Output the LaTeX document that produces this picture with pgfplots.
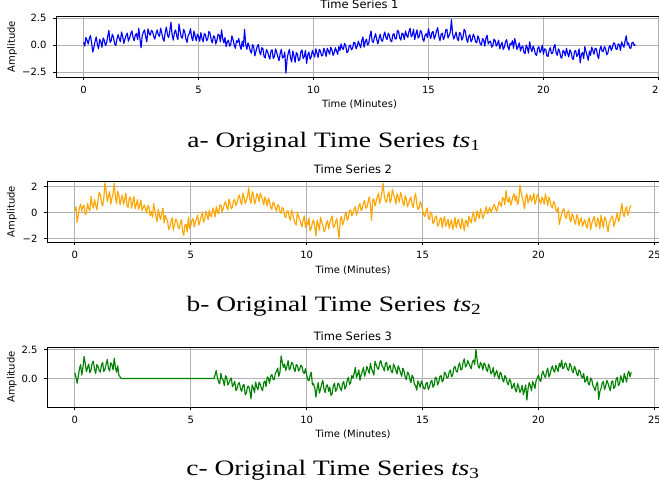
\documentclass[border=0pt]{standalone}
\usepackage{fontspec}
\setmainfont{DejaVu Sans}
\newfontfamily\capfont{Liberation Serif}
\usepackage{graphicx}
\usepackage{pgfplots}
\pgfplotsset{compat=1.18}
\definecolor{tsblue}{RGB}{0,0,255}
\definecolor{tsorange}{RGB}{255,165,0}
\definecolor{tsgreen}{RGB}{0,128,0}
\definecolor{gridgray}{RGB}{176,176,176}

\pgfplotsset{
  tsaxis/.style={
    scale only axis, height=61pt,
    xmin=-1.2, xmax=25.2,
    xtick={0,5,10,15,20,25}, xticklabels={0,5,10,15,20,25},
    grid=major, grid style={gridgray, line width=0.7pt},
    axis line style={black, line width=0.7pt},
    tick align=outside, major tick length=3pt,
    tick style={black, line width=0.7pt},
    xtick pos=bottom, ytick pos=left,
    ticklabel style={font=\fontsize{10}{12}\selectfont},
    xticklabel style={yshift=-3pt},
    yticklabel style={xshift=-3pt},
    xlabel={Time (Minutes)}, ylabel={Amplitude},
    label style={font=\fontsize{10}{12}\selectfont},
    every axis title shift=0pt,
    title style={font=\fontsize{11.5}{13}\selectfont, at={(axis description cs:0.5,1)}, anchor=base, yshift=7pt},
    every axis plot/.append style={line width=1.15pt, mark=none, line join=round},
  },
}
\tikzset{capstyle/.style={anchor=base, font=\capfont\fontsize{22}{24}\selectfont}}

\begin{document}
\begin{tikzpicture}[x=1pt,y=1pt]
\useasboundingbox (0,0) rectangle (659,491);

% ---- Time Series 1 ----
\begin{axis}[tsaxis, at={(56pt,475pt)}, anchor=north west, width=607pt,
  ymin=-2.95, ymax=2.68, ytick={-2.5,0,2.5}, yticklabels={−2.5,0.0,2.5},
  title={Time Series 1},
  xlabel style={at={(axis description cs:0.5,-0.443)}, anchor=center},
  ylabel style={at={(axis description cs:-0.0725,0.5)}, anchor=center}]
\addplot[tsblue] coordinates {
(0.00,0.25)(0.05,-0.10)(0.10,0.70)(0.15,0.45)(0.20,0.10)(0.25,0.60)(0.30,0.88)(0.35,0.15)(0.40,-0.65)(0.45,-0.20)(0.50,0.35)(0.55,0.75)(0.60,0.05)(0.65,-0.35)(0.70,0.52)(0.75,0.30)(0.80,-0.20)(0.85,0.65)(0.90,0.45)(0.95,-0.05)
(1.00,0.18)(1.05,0.80)(1.10,1.35)(1.15,0.25)(1.20,0.40)(1.25,1.00)(1.30,0.72)(1.35,0.10)(1.40,-0.05)(1.45,0.55)(1.50,0.95)(1.55,0.60)(1.60,0.30)(1.65,1.20)(1.70,0.80)(1.75,0.15)(1.80,0.55)(1.85,0.90)(1.90,1.10)(1.95,0.35)
(2.00,0.65)(2.05,1.05)(2.10,1.30)(2.15,0.70)(2.20,0.40)(2.25,0.95)(2.30,1.05)(2.35,0.50)(2.40,1.55)(2.45,0.60)(2.50,-0.25)(2.55,0.85)(2.60,1.20)(2.65,1.40)(2.70,0.75)(2.75,0.30)(2.80,1.50)(2.85,1.10)(2.90,0.90)(2.95,1.35)
(3.00,1.25)(3.05,0.80)(3.10,0.55)(3.15,1.05)(3.20,1.40)(3.25,0.95)(3.30,0.80)(3.35,1.55)(3.40,1.10)(3.45,0.60)(3.50,0.35)(3.55,1.20)(3.60,1.65)(3.65,0.90)(3.70,0.70)(3.75,1.30)(3.80,2.10)(3.85,0.95)(3.90,0.45)(3.95,1.15)
(4.00,1.40)(4.05,0.85)(4.10,0.50)(4.15,1.95)(4.20,1.25)(4.25,0.70)(4.30,0.65)(4.35,1.45)(4.40,1.20)(4.45,0.55)(4.50,0.25)(4.55,0.90)(4.60,1.05)(4.65,1.50)(4.70,0.70)(4.75,0.40)(4.80,1.30)(4.85,0.85)(4.90,0.40)(4.95,1.00)
(5.00,0.80)(5.05,0.35)(5.10,1.15)(5.15,0.60)(5.20,0.30)(5.25,1.05)(5.30,0.95)(5.35,0.40)(5.40,0.55)(5.45,1.25)(5.50,1.10)(5.55,0.45)(5.60,0.20)(5.65,0.85)(5.70,0.75)(5.75,0.10)(5.80,0.45)(5.85,1.00)(5.90,0.90)(5.95,0.30)
(6.00,1.40)(6.05,0.60)(6.10,0.20)(6.15,0.70)(6.20,-0.15)(6.25,0.30)(6.30,0.45)(6.35,-0.10)(6.40,0.05)(6.45,0.85)(6.50,0.50)(6.55,0.00)(6.60,-0.30)(6.65,0.40)(6.70,0.25)(6.75,0.60)(6.80,-0.05)(6.85,-0.40)(6.90,0.35)(6.95,-0.15)
(7.00,1.45)(7.05,0.10)(7.10,-0.40)(7.15,0.20)(7.20,-0.10)(7.25,-0.55)(7.30,-0.75)(7.35,0.05)(7.40,-0.20)(7.45,-1.00)(7.50,-0.55)(7.55,-0.15)(7.60,0.05)(7.65,-0.60)(7.70,-0.90)(7.75,-0.25)(7.80,-0.35)(7.85,-1.05)(7.90,-1.20)(7.95,-0.40)
(8.00,-0.60)(8.05,-1.00)(8.10,-1.30)(8.15,-0.55)(8.20,-0.45)(8.25,-1.25)(8.30,-1.05)(8.35,-0.35)(8.40,-0.70)(8.45,-1.10)(8.50,-1.45)(8.55,-0.80)(8.60,-0.40)(8.65,-1.20)(8.70,-1.10)(8.75,-0.65)(8.80,-2.60)(8.85,-1.30)(8.90,-0.75)(8.95,-0.40)
(9.00,-1.20)(9.05,-1.55)(9.10,-0.55)(9.15,-1.00)(9.20,-1.60)(9.25,-0.70)(9.30,-0.85)(9.35,-1.45)(9.40,-1.35)(9.45,-0.60)(9.50,-0.45)(9.55,-1.25)(9.60,-1.05)(9.65,-0.50)(9.70,-1.70)(9.75,-0.90)(9.80,-0.65)(9.85,-1.30)(9.90,-1.10)(9.95,-0.50)
(10.00,-0.80)(10.05,-1.10)(10.10,-0.35)(10.15,-0.75)(10.20,-1.15)(10.25,-0.40)(10.30,-0.55)(10.35,-1.00)(10.40,-0.95)(10.45,-0.30)(10.50,-0.60)(10.55,-1.05)(10.60,-0.30)(10.65,-0.55)(10.70,-0.85)(10.75,-0.20)(10.80,-0.45)(10.85,-0.95)(10.90,-0.70)(10.95,-0.25)
(11.00,-0.55)(11.05,-0.85)(11.10,-0.15)(11.15,-0.50)(11.20,0.10)(11.25,-0.30)(11.30,-0.40)(11.35,0.15)(11.40,-0.05)(11.45,-0.70)(11.50,-0.60)(11.55,-0.10)(11.60,0.00)(11.65,-0.45)(11.70,-0.30)(11.75,0.25)(11.80,0.20)(11.85,-0.35)(11.90,-0.10)(11.95,0.35)
(12.00,0.05)(12.05,-0.25)(12.10,0.40)(12.15,0.75)(12.20,-0.20)(12.25,0.30)(12.30,0.55)(12.35,0.00)(12.40,0.15)(12.45,0.80)(12.50,1.30)(12.55,0.35)(12.60,0.25)(12.65,0.70)(12.70,1.05)(12.75,0.50)(12.80,0.10)(12.85,0.60)(12.90,1.00)(12.95,0.45)
(13.00,0.35)(13.05,0.85)(13.10,1.20)(13.15,0.70)(13.20,0.50)(13.25,1.10)(13.30,0.90)(13.35,0.40)(13.40,0.30)(13.45,0.95)(13.50,1.05)(13.55,0.55)(13.60,0.60)(13.65,1.35)(13.70,1.25)(13.75,0.65)(13.80,0.45)(13.85,1.10)(13.90,1.00)(13.95,0.50)
(14.00,1.30)(14.05,0.90)(14.10,0.70)(14.15,1.25)(14.20,1.55)(14.25,0.75)(14.30,0.95)(14.35,1.45)(14.40,0.50)(14.45,1.00)(14.50,1.40)(14.55,0.65)(14.60,0.80)(14.65,1.35)(14.70,1.20)(14.75,0.55)(14.80,0.35)(14.85,0.90)(14.90,1.05)(14.95,0.70)
(15.00,1.50)(15.05,0.95)(15.10,0.60)(15.15,1.15)(15.20,1.25)(15.25,0.55)(15.30,0.85)(15.35,1.30)(15.40,1.60)(15.45,0.80)(15.50,0.40)(15.55,1.00)(15.60,1.10)(15.65,0.50)(15.70,0.75)(15.75,1.40)(15.80,1.45)(15.85,0.65)(15.90,0.90)(15.95,1.20)
(16.00,2.35)(16.05,1.00)(16.10,0.55)(16.15,0.85)(16.20,1.20)(16.25,0.60)(16.30,0.40)(16.35,1.15)(16.40,1.05)(16.45,0.45)(16.50,0.70)(16.55,1.45)(16.60,1.30)(16.65,0.60)(16.70,0.25)(16.75,0.80)(16.80,0.95)(16.85,0.30)(16.90,0.50)(16.95,1.00)
(17.00,0.75)(17.05,0.30)(17.10,0.20)(17.15,0.85)(17.20,0.55)(17.25,0.10)(17.30,0.00)(17.35,0.60)(17.40,0.45)(17.45,-0.10)(17.50,0.65)(17.55,0.90)(17.60,0.10)(17.65,0.30)(17.70,0.35)(17.75,-0.20)(17.80,-0.05)(17.85,0.55)(17.90,0.40)(17.95,-0.10)
(18.00,0.10)(18.05,0.45)(18.10,-0.35)(18.15,0.00)(18.20,0.25)(18.25,-0.40)(18.30,-0.20)(18.35,0.30)(18.40,0.50)(18.45,-0.15)(18.50,-0.45)(18.55,0.15)(18.60,0.05)(18.65,0.40)(18.70,-0.30)(18.75,0.60)(18.80,0.15)(18.85,-0.40)(18.90,-0.15)(18.95,0.20)
(19.00,-0.55)(19.05,-0.20)(19.10,-0.10)(19.15,-0.65)(19.20,-0.80)(19.25,0.00)(19.30,-0.25)(19.35,-0.75)(19.40,0.30)(19.45,-0.30)(19.50,-0.60)(19.55,-0.10)(19.60,-0.35)(19.65,-0.85)(19.70,-0.95)(19.75,-0.30)(19.80,-0.15)(19.85,-0.70)(19.90,-0.50)(19.95,0.00)
(20.00,-0.85)(20.05,-0.35)(20.10,-0.40)(20.15,-1.00)(20.20,-1.05)(20.25,-0.45)(20.30,-0.25)(20.35,-0.80)(20.40,-0.75)(20.45,-0.20)(20.50,0.05)(20.55,-0.70)(20.60,-0.95)(20.65,-0.35)(20.70,-0.55)(20.75,-1.10)(20.80,-1.20)(20.85,-0.50)(20.90,-0.60)(20.95,-1.00)
(21.00,-0.30)(21.05,-0.75)(21.10,-1.10)(21.15,-0.45)(21.20,-0.65)(21.25,-1.20)(21.30,-1.35)(21.35,-0.60)(21.40,-0.50)(21.45,-1.05)(21.50,-0.90)(21.55,-0.35)(21.60,-1.65)(21.65,-0.85)(21.70,-0.70)(21.75,-1.25)(21.80,-0.15)(21.85,-0.60)(21.90,-1.00)(21.95,-1.40)
(22.00,-0.55)(22.05,-0.95)(22.10,-0.20)(22.15,-0.50)(22.20,-0.85)(22.25,-0.30)(22.30,-0.35)(22.35,-0.95)(22.40,-1.25)(22.45,-0.45)(22.50,-0.10)(22.55,-0.55)(22.60,-0.60)(22.65,-0.15)(22.70,-0.30)(22.75,-0.90)(22.80,-0.75)(22.85,-0.20)(22.90,-0.05)(22.95,-0.50)
(23.00,-0.25)(23.05,0.20)(23.10,0.15)(23.15,-0.35)(23.20,-0.40)(23.25,0.10)(23.30,0.05)(23.35,-0.50)(23.40,0.30)(23.45,0.00)(23.50,-0.20)(23.55,0.35)(23.60,0.85)(23.65,0.05)(23.70,0.20)(23.75,-0.25)(23.80,-0.30)(23.85,0.20)(23.90,0.25)(23.95,-0.05)
(24.00,0.05)
};
\end{axis}

% ---- Time Series 2 ----
\begin{axis}[tsaxis, at={(47pt,310pt)}, anchor=north west, width=612pt,
  ymin=-2.26, ymax=2.43, ytick={-2,0,2}, yticklabels={−2,0,2},
  title={Time Series 2},
  xlabel style={at={(axis description cs:0.5,-0.459)}, anchor=center},
  ylabel style={at={(axis description cs:-0.0572,0.5)}, anchor=center}]
\addplot[tsorange] coordinates {
(0.00,0.15)(0.05,0.45)(0.10,-0.75)(0.15,-0.20)(0.20,0.40)(0.25,0.65)(0.30,0.10)(0.35,0.50)(0.40,0.55)(0.45,-0.15)(0.50,-0.05)(0.55,0.70)(0.60,0.30)(0.65,0.15)(0.70,1.25)(0.75,0.60)(0.80,0.35)(0.85,1.00)(0.90,0.60)(0.95,0.20)
(1.00,0.95)(1.05,1.55)(1.10,1.40)(1.15,0.75)(1.20,0.50)(1.25,1.10)(1.30,2.30)(1.35,1.70)(1.40,0.85)(1.45,1.25)(1.50,1.60)(1.55,0.65)(1.60,1.10)(1.65,1.50)(1.70,2.25)(1.75,1.20)(1.80,0.70)(1.85,1.65)(1.90,1.35)(1.95,0.60)
(2.00,1.05)(2.05,1.35)(2.10,0.65)(2.15,1.00)(2.20,1.50)(2.25,0.55)(2.30,0.40)(2.35,1.10)(2.40,1.20)(2.45,0.35)(2.50,0.80)(2.55,1.25)(2.60,0.30)(2.65,0.60)(2.70,1.00)(2.75,0.25)(2.80,0.55)(2.85,0.95)(2.90,0.15)(2.95,0.40)
(3.00,0.60)(3.05,0.30)(3.10,-0.05)(3.15,0.55)(3.20,0.45)(3.25,-0.25)(3.30,0.10)(3.35,-0.35)(3.40,0.70)(3.45,0.20)(3.50,-0.30)(3.55,-0.70)(3.60,0.25)(3.65,-0.20)(3.70,-0.55)(3.75,0.00)(3.80,0.35)(3.85,-0.80)(3.90,-0.20)(3.95,-0.45)
(4.00,-0.65)(4.05,-1.30)(4.10,-1.10)(4.15,-0.70)(4.20,-0.40)(4.25,-1.35)(4.30,-0.95)(4.35,-0.50)(4.40,-0.60)(4.45,-1.05)(4.50,-1.25)(4.55,-0.80)(4.60,-0.55)(4.65,-1.45)(4.70,-1.75)(4.75,-0.95)(4.80,-0.90)(4.85,-1.50)(4.90,-0.35)(4.95,-1.20)
(5.00,-1.05)(5.05,-0.60)(5.10,-0.45)(5.15,-1.10)(5.20,-0.80)(5.25,-0.45)(5.30,-0.20)(5.35,-0.95)(5.40,-0.65)(5.45,-0.30)(5.50,0.05)(5.55,-0.75)(5.60,-0.50)(5.65,0.10)(5.70,-0.15)(5.75,-0.55)(5.80,0.20)(5.85,-0.25)(5.90,-0.30)(5.95,0.35)
(6.00,0.15)(6.05,-0.35)(6.10,0.45)(6.15,0.10)(6.20,-0.10)(6.25,0.55)(6.30,0.60)(6.35,0.05)(6.40,0.30)(6.45,0.65)(6.50,0.85)(6.55,0.45)(6.60,0.20)(6.65,1.05)(6.70,0.70)(6.75,0.30)(6.80,0.40)(6.85,0.95)(6.90,1.00)(6.95,0.55)
(7.00,0.75)(7.05,1.15)(7.10,1.35)(7.15,0.85)(7.20,0.60)(7.25,1.50)(7.30,1.20)(7.35,0.70)(7.40,0.95)(7.45,1.25)(7.50,1.90)(7.55,1.05)(7.60,0.70)(7.65,1.60)(7.70,1.45)(7.75,0.65)(7.80,0.90)(7.85,1.45)(7.90,1.30)(7.95,0.85)
(8.00,1.50)(8.05,1.25)(8.10,0.95)(8.15,0.60)(8.20,1.20)(8.25,0.95)(8.30,0.50)(8.35,1.10)(8.40,0.85)(8.45,0.40)(8.50,0.25)(8.55,0.80)(8.60,0.70)(8.65,0.35)(8.70,0.10)(8.75,0.60)(8.80,0.55)(8.85,0.05)(8.90,-0.05)(8.95,0.40)
(9.00,0.30)(9.05,-0.25)(9.10,-0.40)(9.15,0.10)(9.20,0.15)(9.25,-0.35)(9.30,-0.60)(9.35,0.20)(9.40,-0.10)(9.45,-0.50)(9.50,-0.80)(9.55,-0.95)(9.60,0.05)(9.65,-0.30)(9.70,-0.50)(9.75,-0.85)(9.80,-1.10)(9.85,-0.55)(9.90,-0.25)(9.95,-1.15)
(10.00,-0.70)(10.05,-0.95)(10.10,-0.40)(10.15,-1.40)(10.20,-1.20)(10.25,-0.80)(10.30,-0.55)(10.35,-1.10)(10.40,-1.80)(10.45,-0.60)(10.50,-0.90)(10.55,-1.35)(10.60,-0.35)(10.65,-0.75)(10.70,-1.00)(10.75,-1.45)(10.80,-1.30)(10.85,-0.85)(10.90,-0.60)(10.95,-1.25)
(11.00,-0.80)(11.05,-0.50)(11.10,-0.25)(11.15,-1.15)(11.20,-1.05)(11.25,-0.70)(11.30,-0.45)(11.35,-1.30)(11.40,-1.95)(11.45,-0.55)(11.50,-0.30)(11.55,-0.95)(11.60,-0.70)(11.65,-0.20)(11.70,0.05)(11.75,-0.60)(11.80,-0.40)(11.85,0.15)(11.90,0.20)(11.95,-0.25)
(12.00,-0.05)(12.05,0.30)(12.10,0.45)(12.15,-0.20)(12.20,0.10)(12.25,0.50)(12.30,0.70)(12.35,0.15)(12.40,0.30)(12.45,0.75)(12.50,0.95)(12.55,0.35)(12.60,0.40)(12.65,0.80)(12.70,1.20)(12.75,0.55)(12.80,-0.60)(12.85,0.95)(12.90,1.05)(12.95,0.50)
(13.00,0.85)(13.05,1.20)(13.10,1.50)(13.15,0.70)(13.20,1.00)(13.25,1.65)(13.30,2.25)(13.35,1.25)(13.40,0.90)(13.45,0.80)(13.50,1.35)(13.55,1.60)(13.60,0.75)(13.65,1.00)(13.70,1.80)(13.75,1.40)(13.80,1.10)(13.85,0.65)(13.90,1.45)(13.95,1.15)
(14.00,0.80)(14.05,1.55)(14.10,1.30)(14.15,0.75)(14.20,0.55)(14.25,1.30)(14.30,1.05)(14.35,0.45)(14.40,0.70)(14.45,1.00)(14.50,1.20)(14.55,0.60)(14.60,0.40)(14.65,1.10)(14.70,1.50)(14.75,0.70)(14.80,0.25)(14.85,0.35)(14.90,0.85)(14.95,0.60)
(15.00,0.20)(15.05,-0.15)(15.10,-0.30)(15.15,0.15)(15.20,0.35)(15.25,-0.40)(15.30,-0.55)(15.35,0.05)(15.40,-0.10)(15.45,-0.85)(15.50,-0.70)(15.55,-0.35)(15.60,-0.25)(15.65,-1.05)(15.70,-0.90)(15.75,-0.50)(15.80,-0.40)(15.85,-1.15)(15.90,-0.60)(15.95,-0.30)
(16.00,-1.05)(16.05,-0.80)(16.10,-0.50)(16.15,-1.20)(16.20,-0.85)(16.25,-0.55)(16.30,-1.30)(16.35,-0.95)(16.40,-0.35)(16.45,-1.15)(16.50,-0.75)(16.55,-0.50)(16.60,-1.00)(16.65,-1.25)(16.70,-0.45)(16.75,-0.85)(16.80,-1.40)(16.85,-0.60)(16.90,-0.65)(16.95,-1.10)
(17.00,-0.30)(17.05,-0.55)(17.10,-0.80)(17.15,-0.20)(17.20,0.05)(17.25,-0.70)(17.30,-0.55)(17.35,0.15)(17.40,-0.20)(17.45,-0.45)(17.50,0.30)(17.55,0.00)(17.60,-0.45)(17.65,-0.20)(17.70,0.10)(17.75,0.45)(17.80,-0.10)(17.85,0.15)(17.90,0.40)(17.95,0.05)
(18.00,0.20)(18.05,0.50)(18.10,0.65)(18.15,0.30)(18.20,0.10)(18.25,0.40)(18.30,0.85)(18.35,0.70)(18.40,0.45)(18.45,1.15)(18.50,1.05)(18.55,0.60)(18.60,1.70)(18.65,1.00)(18.70,0.80)(18.75,1.20)(18.80,0.55)(18.85,0.85)(18.90,1.25)(18.95,1.45)
(19.00,0.90)(19.05,1.30)(19.10,0.60)(19.15,0.95)(19.20,2.10)(19.25,1.55)(19.30,1.20)(19.35,0.80)(19.40,0.30)(19.45,1.15)(19.50,1.45)(19.55,0.75)(19.60,1.00)(19.65,1.35)(19.70,0.85)(19.75,1.10)(19.80,1.50)(19.85,0.65)(19.90,0.95)(19.95,1.40)
(20.00,1.25)(20.05,0.90)(20.10,0.70)(20.15,1.20)(20.20,1.00)(20.25,0.65)(20.30,1.45)(20.35,1.00)(20.40,0.55)(20.45,1.20)(20.50,0.90)(20.55,0.50)(20.60,0.35)(20.65,0.85)(20.70,0.75)(20.75,0.20)(20.80,0.10)(20.85,0.40)(20.90,-0.90)(20.95,-0.45)
(21.00,-0.10)(21.05,0.20)(21.10,0.30)(21.15,-0.30)(21.20,-0.45)(21.25,0.05)(21.30,0.15)(21.35,-0.50)(21.40,-0.70)(21.45,-0.10)(21.50,-0.25)(21.55,-0.65)(21.60,-0.90)(21.65,-0.15)(21.70,-0.35)(21.75,-1.00)(21.80,-0.60)(21.85,-0.40)(21.90,-1.05)(21.95,-0.75)
(22.00,-0.55)(22.05,-0.95)(22.10,-1.20)(22.15,-0.60)(22.20,-0.40)(22.25,-1.30)(22.30,-0.85)(22.35,-0.55)(22.40,-0.30)(22.45,-0.85)(22.50,-1.10)(22.55,-0.40)(22.60,-0.65)(22.65,-1.25)(22.70,-0.20)(22.75,-0.70)(22.80,-1.15)(22.85,-0.35)(22.90,-0.45)(22.95,-1.00)
(23.00,-1.50)(23.05,-0.80)(23.10,-0.60)(23.15,-0.35)(23.20,-0.25)(23.25,-1.05)(23.30,-0.80)(23.35,-0.40)(23.40,0.00)(23.45,-0.70)(23.50,-0.45)(23.55,0.15)(23.60,0.70)(23.65,-0.10)(23.70,-0.30)(23.75,0.25)(23.80,0.45)(23.85,-0.20)(23.90,0.05)(23.95,0.40)
(24.00,0.55)
};
\end{axis}

% ---- Time Series 3 ----
\begin{axis}[tsaxis, at={(47pt,144pt)}, anchor=north west, width=612pt, height=60pt,
  ymin=-2.45, ymax=2.72, ytick={0,2.5}, yticklabels={0.0,2.5},
  title={Time Series 3},
  xlabel style={at={(axis description cs:0.5,-0.45)}, anchor=center},
  ylabel style={at={(axis description cs:-0.0572,0.5)}, anchor=center}]
\addplot[tsgreen] coordinates {
(0.00,0.50)(0.05,0.10)(0.10,-0.40)(0.15,0.20)(0.20,0.85)(0.25,1.20)(0.30,0.30)(0.35,0.95)(0.40,1.90)(0.45,1.30)(0.50,0.60)(0.55,0.95)(0.60,1.25)(0.65,0.50)(0.70,0.75)(0.75,1.35)(0.80,1.50)(0.85,0.80)(0.90,0.45)(0.95,1.20)
(1.00,1.05)(1.05,0.70)(1.10,0.55)(1.15,1.15)(1.20,1.40)(1.25,0.60)(1.30,0.80)(1.35,1.25)(1.40,1.65)(1.45,0.90)(1.50,0.65)(1.55,1.35)(1.60,1.20)(1.65,0.75)(1.70,1.75)(1.75,1.00)(1.80,0.55)(1.85,1.10)(1.90,0.30)(1.95,0.15)
(2.00,0.00)(6.00,0.00)
(6.05,0.30)(6.10,0.70)(6.15,0.10)(6.20,-0.30)(6.25,-0.45)(6.30,0.45)(6.35,0.00)(6.40,-0.15)(6.45,-0.60)(6.50,0.25)(6.55,0.10)(6.60,-0.55)(6.65,-0.35)(6.70,-0.10)(6.75,0.05)(6.80,-0.70)(6.85,-0.50)(6.90,-0.25)(6.95,-1.05)
(7.00,-0.85)(7.05,-0.45)(7.10,-0.35)(7.15,-0.90)(7.20,-1.10)(7.25,-0.60)(7.30,-0.50)(7.35,-1.40)(7.40,-1.25)(7.45,-0.70)(7.50,-0.65)(7.55,-1.05)(7.60,-1.75)(7.65,-0.55)(7.70,-0.80)(7.75,-1.20)(7.80,-0.30)(7.85,-0.75)(7.90,-0.95)(7.95,-0.30)
(8.00,-0.50)(8.05,-0.85)(8.10,-1.05)(8.15,-0.35)(8.20,-0.20)(8.25,-0.70)(8.30,0.15)(8.35,0.05)(8.40,-0.40)(8.45,0.20)(8.50,0.35)(8.55,-0.05)(8.60,-0.10)(8.65,0.45)(8.70,0.60)(8.75,0.90)(8.80,0.20)(8.85,0.55)(8.90,1.95)(8.95,1.40)
(9.00,0.95)(9.05,1.25)(9.10,0.70)(9.15,1.05)(9.20,1.55)(9.25,0.75)(9.30,0.90)(9.35,1.40)(9.40,1.30)(9.45,0.85)(9.50,0.60)(9.55,1.20)(9.60,1.15)(9.65,0.65)(9.70,0.80)(9.75,1.15)(9.80,1.05)(9.85,0.55)(9.90,0.45)(9.95,0.85)
(10.00,0.30)(10.05,-0.10)(10.10,-0.20)(10.15,0.25)(10.20,0.55)(10.25,-0.55)(10.30,-0.45)(10.35,-0.80)(10.40,-1.60)(10.45,-0.85)(10.50,-0.35)(10.55,-1.25)(10.60,-0.90)(10.65,-0.45)(10.70,-0.15)(10.75,-0.95)(10.80,-1.20)(10.85,-0.60)(10.90,-0.55)(10.95,-1.10)
(11.00,-0.75)(11.05,-1.45)(11.10,-1.30)(11.15,-0.65)(11.20,-0.40)(11.25,-1.10)(11.30,-0.95)(11.35,-0.40)(11.40,-0.50)(11.45,-0.85)(11.50,-1.05)(11.55,-0.45)(11.60,-0.25)(11.65,-0.90)(11.70,-0.70)(11.75,-0.15)(11.80,0.10)(11.85,-0.50)(11.90,-0.35)(11.95,0.25)
(12.00,0.05)(12.05,0.45)(12.10,0.95)(12.15,0.10)(12.20,0.35)(12.25,0.75)(12.30,-0.15)(12.35,0.30)(12.40,0.60)(12.45,0.95)(12.50,0.20)(12.55,0.55)(12.60,1.05)(12.65,0.75)(12.70,0.45)(12.75,1.30)(12.80,0.85)(12.85,0.60)(12.90,0.30)(12.95,1.50)
(13.00,1.20)(13.05,0.90)(13.10,0.80)(13.15,1.35)(13.20,1.55)(13.25,1.10)(13.30,0.95)(13.35,0.65)(13.40,1.30)(13.45,1.40)(13.50,0.70)(13.55,0.95)(13.60,1.15)(13.65,0.60)(13.70,0.50)(13.75,1.25)(13.80,1.00)(13.85,0.70)(13.90,0.40)(13.95,1.10)
(14.00,0.85)(14.05,0.50)(14.10,0.20)(14.15,0.90)(14.20,0.65)(14.25,0.15)(14.30,-0.10)(14.35,0.55)(14.40,0.45)(14.45,-0.05)(14.50,-0.35)(14.55,0.30)(14.60,0.10)(14.65,-0.50)(14.70,-0.60)(14.75,-1.00)(14.80,-0.20)(14.85,-0.45)(14.90,-0.75)(14.95,-0.20)
(15.00,-0.50)(15.05,-0.85)(15.10,-0.90)(15.15,-0.40)(15.20,-0.35)(15.25,-0.95)(15.30,-0.70)(15.35,-0.30)(15.40,-0.15)(15.45,-0.75)(15.50,-0.55)(15.55,0.10)(15.60,0.05)(15.65,-0.55)(15.70,-0.30)(15.75,0.20)(15.80,0.25)(15.85,-0.30)(15.90,-0.10)(15.95,0.55)
(16.00,0.40)(16.05,0.05)(16.10,0.10)(16.15,0.55)(16.20,0.75)(16.25,0.15)(16.30,0.30)(16.35,0.90)(16.40,1.05)(16.45,0.65)(16.50,0.55)(16.55,1.10)(16.60,1.35)(16.65,0.75)(16.70,0.80)(16.75,1.40)(16.80,1.70)(16.85,1.00)(16.90,1.10)(16.95,1.55)
(17.00,1.30)(17.05,1.05)(17.10,0.85)(17.15,1.45)(17.20,1.60)(17.25,1.20)(17.30,2.50)(17.35,1.70)(17.40,1.05)(17.45,0.90)(17.50,1.40)(17.55,1.20)(17.60,0.75)(17.65,1.35)(17.70,1.20)(17.75,0.80)(17.80,0.60)(17.85,1.25)(17.90,0.95)(17.95,0.40)
(18.00,0.55)(18.05,0.95)(18.10,0.15)(18.15,0.45)(18.20,0.70)(18.25,0.25)(18.30,-0.05)(18.35,0.55)(18.40,0.40)(18.45,-0.10)(18.50,-0.30)(18.55,0.25)(18.60,0.10)(18.65,-0.35)(18.70,-0.55)(18.75,-0.05)(18.80,-0.20)(18.85,-0.85)(18.90,-0.70)(18.95,-0.40)
(19.00,-0.95)(19.05,-1.15)(19.10,-0.45)(19.15,-0.70)(19.20,-1.20)(19.25,-0.95)(19.30,-0.60)(19.35,-1.40)(19.40,-1.00)(19.45,-0.55)(19.50,-1.85)(19.55,-0.90)(19.60,-0.35)(19.65,-0.60)(19.70,-1.05)(19.75,-0.25)(19.80,-0.50)(19.85,-0.85)(19.90,-0.15)(19.95,0.05)
(20.00,0.30)(20.05,-0.10)(20.10,-0.25)(20.15,0.40)(20.20,0.65)(20.25,0.25)(20.30,0.10)(20.35,0.60)(20.40,0.90)(20.45,0.15)(20.50,0.35)(20.55,0.80)(20.60,1.10)(20.65,0.70)(20.70,0.55)(20.75,1.15)(20.80,0.85)(20.85,0.60)(20.90,1.30)(20.95,1.00)
(21.00,1.60)(21.05,0.85)(21.10,0.95)(21.15,1.35)(21.20,1.25)(21.25,0.80)(21.30,0.70)(21.35,1.30)(21.40,1.10)(21.45,0.70)(21.50,0.50)(21.55,1.05)(21.60,0.85)(21.65,0.40)(21.70,0.25)(21.75,0.75)(21.80,0.60)(21.85,0.20)(21.90,0.05)(21.95,0.45)
(22.00,-0.30)(22.05,-0.20)(22.10,0.20)(22.15,-0.45)(22.20,-0.55)(22.25,0.05)(22.30,-0.10)(22.35,-0.60)(22.40,-0.80)(22.45,-1.05)(22.50,-0.50)(22.55,-0.30)(22.60,-1.80)(22.65,-1.10)(22.70,-0.85)(22.75,-0.40)(22.80,-0.25)(22.85,-0.95)(22.90,-0.65)(22.95,-0.15)
(23.00,-0.40)(23.05,-0.75)(23.10,-1.05)(23.15,-0.30)(23.20,-0.20)(23.25,-0.85)(23.30,-0.70)(23.35,-0.05)(23.40,0.10)(23.45,-0.60)(23.50,-0.45)(23.55,0.25)(23.60,-0.10)(23.65,-0.35)(23.70,0.45)(23.75,0.10)(23.80,-0.30)(23.85,0.40)(23.90,0.65)(23.95,0.15)
(24.00,0.55)
};
\end{axis}

% ---- captions ----
\node[capstyle] at (334,343.5) {\scalebox{1.25}[1]{a- Original Time Series \textit{ts}\textsubscript{1}}};
\node[capstyle] at (334,180) {\scalebox{1.25}[1]{b- Original Time Series \textit{ts}\textsubscript{2}}};
\node[capstyle] at (333,16) {\scalebox{1.25}[1]{c- Original Time Series \textit{ts}\textsubscript{3}}};
\end{tikzpicture}
\end{document}
